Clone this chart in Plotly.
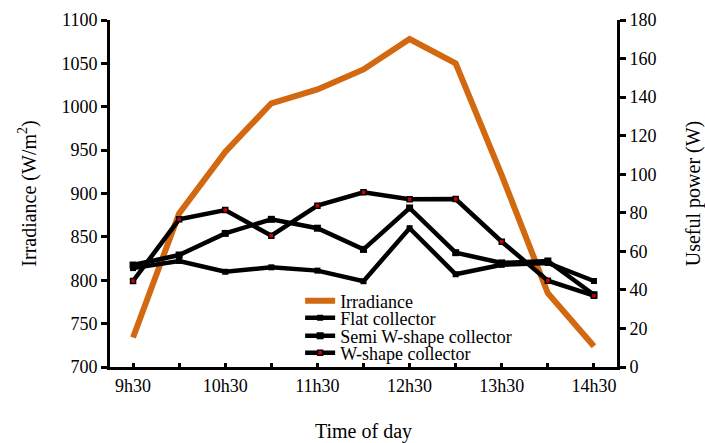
import plotly.graph_objects as go

times = ["9h30", "10h00", "10h30", "11h00", "11h30", "12h00",
         "12h30", "13h00", "13h30", "14h00", "14h30"]
tick_labels = ["9h30", "", "10h30", "", "11h30", "", "12h30", "", "13h30", "", "14h30"]

irradiance = [734, 877, 948, 1004, 1020, 1043, 1078, 1050, 921, 785, 724]
flat = [51.3, 55.0, 49.4, 51.7, 50.0, 44.5, 72.0, 48.1, 53.0, 54.0, 44.6]
semi_w = [52.9, 58.1, 69.3, 76.6, 72.0, 61.0, 82.5, 59.3, 54.0, 55.0, 37.5]
w_shape = [44.6, 76.6, 81.4, 68.1, 83.7, 90.6, 87.0, 87.1, 65.0, 44.8, 37.0]

x = list(range(len(times)))
FONT = "Liberation Serif"

fig = go.Figure()
fig.add_trace(go.Scatter(x=x, y=irradiance, name="Irradiance", mode="lines",
                         line=dict(color="#D2680F", width=6), legend="legend"))
fig.add_trace(go.Scatter(x=x, y=flat, name="Flat collector", mode="lines+markers",
                         line=dict(color="black", width=4.5),
                         marker=dict(symbol="square", size=6, color="black"),
                         yaxis="y2", legend="legend2"))
fig.add_trace(go.Scatter(x=x, y=semi_w, name="Semi W-shape collector", mode="lines+markers",
                         line=dict(color="black", width=4.5),
                         marker=dict(symbol="square", size=7, color="black"),
                         yaxis="y2", legend="legend3"))
fig.add_trace(go.Scatter(x=x, y=w_shape, name="W-shape collector", mode="lines+markers",
                         line=dict(color="black", width=4.5),
                         marker=dict(symbol="square", size=5, color="#CC0000",
                                     line=dict(color="black", width=1.5)),
                         yaxis="y2", legend="legend4"))

def leg(yc):
    return dict(x=0.375, y=yc, xanchor="left", yanchor="middle",
                bgcolor="rgba(0,0,0,0)", font=dict(size=18, family=FONT, color="black"),
                borderwidth=0)

fig.update_layout(
    width=705, height=443,
    margin=dict(l=110, r=88, t=20, b=76, autoexpand=False),
    plot_bgcolor="white", paper_bgcolor="white",
    font=dict(family=FONT, size=18, color="black"),
    showlegend=True,
    legend=leg(0.190), legend2=leg(0.141), legend3=leg(0.089), legend4=leg(0.040),
    xaxis=dict(range=[-0.5, 10.5], tickvals=x, ticktext=tick_labels,
               showline=True, linecolor="black", linewidth=3,
               ticks="inside", ticklen=4, tickwidth=3, tickcolor="black",
               showgrid=False, zeroline=False, automargin=False,
               title=dict(text="Time of day", font=dict(size=20, family=FONT), standoff=38),
               tickfont=dict(size=18, family=FONT)),
    yaxis=dict(range=[700, 1100], dtick=50, showline=True, linecolor="black",
               linewidth=3, ticks="outside", ticklen=6, tickwidth=3, tickcolor="black",
               showgrid=False, zeroline=False, automargin=False,
               title=dict(text="Irradiance (W/m<sup>2</sup>)", font=dict(size=20, family=FONT), standoff=20),
               tickfont=dict(size=18, family=FONT)),
    yaxis2=dict(range=[0, 180], dtick=20, overlaying="y", side="right",
                showline=True, linecolor="black", linewidth=3,
                ticks="outside", ticklen=6, tickwidth=3, tickcolor="black",
                showgrid=False, zeroline=False, automargin=False,
                title=dict(text="Useful power (W)", font=dict(size=20, family=FONT), standoff=36),
                tickfont=dict(size=18, family=FONT)),
)

fig.write_html("out.html")
